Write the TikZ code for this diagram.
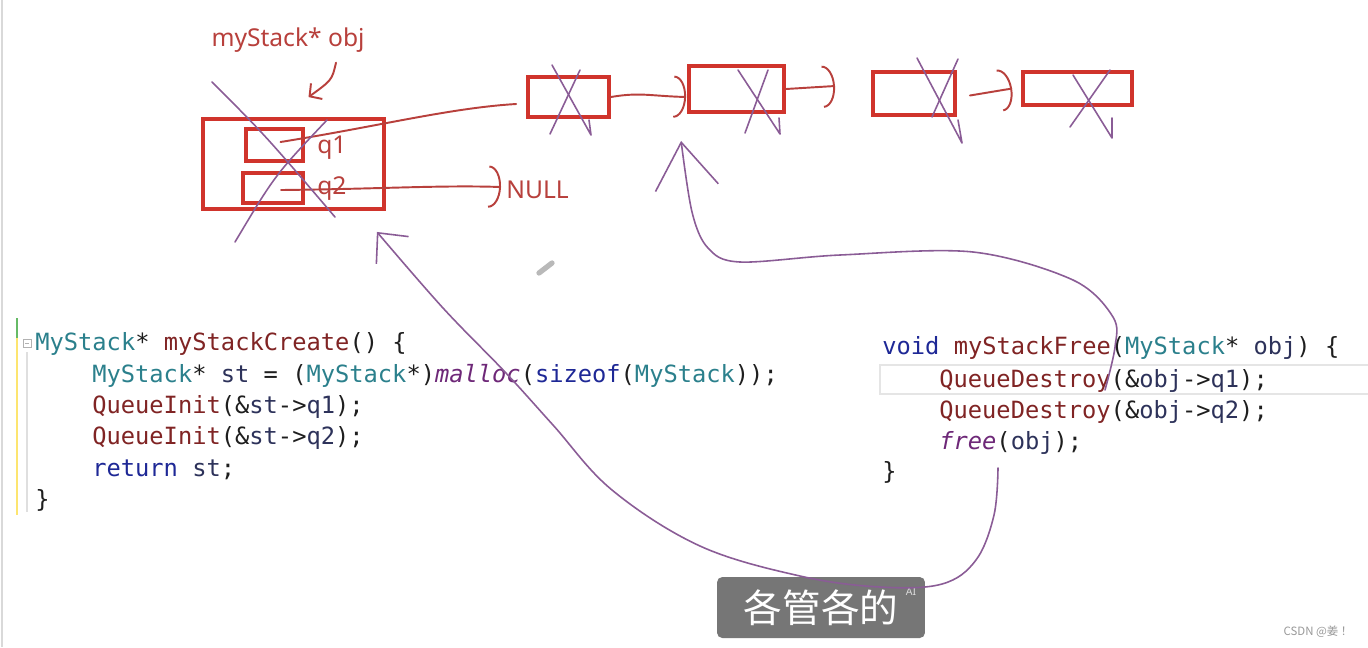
\documentclass[tikz,border=0pt]{standalone}
\usepackage{fontspec}
\setmonofont{DejaVu Sans Mono}
\newfontfamily\annfont{Noto Sans}
\newfontfamily\cjkfont{Noto Sans CJK SC}
\usetikzlibrary{arrows.meta, positioning, calc}

\definecolor{penred}{RGB}{208,52,44}
\definecolor{inkred}{RGB}{184,64,60}
\definecolor{penpurple}{RGB}{138,92,150}
\definecolor{tyteal}{RGB}{43,128,140}
\definecolor{fnred}{RGB}{128,36,36}
\definecolor{kwblue}{RGB}{30,40,150}
\definecolor{idnavy}{RGB}{45,50,90}
\definecolor{itpurple}{RGB}{110,40,120}
\definecolor{subgray}{RGB}{118,118,118}

\newcommand{\cty}[1]{\textcolor{tyteal}{#1}}
\newcommand{\cfn}[1]{\textcolor{fnred}{#1}}
\newcommand{\ckw}[1]{\textcolor{kwblue}{#1}}
\newcommand{\cid}[1]{\textcolor{idnavy}{#1}}
\newcommand{\cit}[1]{\textcolor{itpurple}{\itshape #1}}

\begin{document}
\begin{tikzpicture}[
  x=0.02cm, y=-0.02cm,
  cell/.style={draw=penred, line width=2.2pt, inner sep=0},
  ann/.style={font=\annfont\fontsize{14}{16}\selectfont, text=inkred, inner sep=0},
  redline/.style={draw=inkred, line width=1.1pt, line cap=round},
  hook/.style={-{Arc Barb[length=7pt,width=24pt]}},
  pen/.style={draw=penpurple, line width=0.9pt, line cap=round, line join=round},
  code/.style={font=\ttfamily\fontsize{13.5}{16}\selectfont, anchor=base west,
    inner sep=0, text={rgb,255:red,30;green,30;blue,30}},
]
\useasboundingbox (0,0) rectangle (1368,647);
\fill[white] (0,0) rectangle (1368,647);
\draw[gray!30, line width=0.6pt] (2,0) -- (2,647);

% memory boxes
\node[cell, minimum width=3.62cm, minimum height=1.80cm] (objbox) at (293.5,164) {};
\node[cell, minimum width=1.14cm, minimum height=0.64cm] (q1box) at (274.5,145) {};
\node[cell, minimum width=1.20cm, minimum height=0.60cm] (q2box) at (273,188) {};
\node[cell, minimum width=1.62cm, minimum height=0.80cm] (n1) at (568.5,97) {};
\node[cell, minimum width=1.90cm, minimum height=0.92cm] (n2) at (736.5,89) {};
\node[cell, minimum width=1.64cm, minimum height=0.86cm] (n3) at (914,93.5) {};
\node[cell, minimum width=2.18cm, minimum height=0.66cm] (n4) at (1077.5,88.5) {};

\node[ann] (objlbl) at (288,40) {myStack* obj};
\node[ann, anchor=west] (q1lbl) at (317,148) {q1};
\node[ann, anchor=west] (q2lbl) at (317,189) {q2};
\node[ann, anchor=west] (null) at (506,190) {NULL};
\coordinate (n2out) at (835,86);

% red pointers
\draw[redline, -{Straight Barb[length=5pt,width=11pt]}] ($(objlbl.south)+(48,10)$)
  .. controls (332,80) .. ($(objbox.north)+(15,-20)$);
\draw[redline] ($(q1box.center)+(6,-3)$) .. controls (380,126) and (450,108) .. ($(n1.west)+(-10,7)$);
\draw[redline, hook] ($(q2box.center)+(8,2)$) .. controls (380,189) and (440,185) .. ($(null.west)+(-5,-3)$);
\draw[redline, hook] (n1.east) .. controls (640,92) and (650,96) .. ($(n2.west)+(-1,8)$);
\draw[redline, hook] (n2.east) -- (n2out);
\draw[redline, hook] ($(n3.east)+(13,2)$) -- ($(n4.west)+(-9,0)$);

% crossed out
\draw[pen] (212,82) .. controls (265,135) .. (335,217);
\draw[pen] (235,242) .. controls (275,175) .. (327,120);
\draw[pen] (552,65) -- (591,135) -- (589,120);
\draw[pen] (580,70) -- (550,134);
\draw[pen] (738,70) -- (780,134) -- (779,118);
\draw[pen] (768,70) -- (745,133);
\draw[pen] (917,58) -- (962,143) -- (958,120);
\draw[pen] (958,59) -- (932,117);
\draw[pen] (1110,70) -- (1070,127);
\draw[pen] (1073,75) -- (1112,138) -- (1112,118);

% cursor
\draw[line width=3pt, gray!55, line cap=round] (539,273) -- (552,263);

% editor gutter
\draw[green!55!black!60, line width=1.2pt] (17,318) -- (17,338);
\draw[yellow!70!orange!55, line width=1.5pt] (17,338) -- (17,515);
\draw[gray!25, line width=0.6pt] (27,352) -- (27,512);
\draw[gray!60, line width=0.4pt] (23,339) rectangle (31,347);
\draw[gray!60, line width=0.4pt] (25,343) -- (29,343);
\draw[gray!20, line width=1pt] (880,365) rectangle (1380,394);

% code
\node[code] (cl1) at (35,350) {\cty{MyStack}* \cfn{myStackCreate}() \{};
\node[code] (cl2) at (92,382) {\cty{MyStack}* \cid{st} = (\cty{MyStack}*)\cit{malloc}(\ckw{sizeof}(\cty{MyStack}));};
\node[code] (cl3) at (92,413) {\cfn{QueueInit}(\&\cid{st}->\cid{q1});};
\node[code] (cl4) at (92,444) {\cfn{QueueInit}(\&\cid{st}->\cid{q2});};
\node[code] (cl5) at (92,476) {\ckw{return} \cid{st};};
\node[code] (cl6) at (35,507) {\}};

\node[code] (cr1) at (882,354) {\ckw{void} \cfn{myStackFree}(\cty{MyStack}* \cid{obj}) \{};
\node[code] (cr2) at (939,387) {\cfn{QueueDestroy}(\&\cid{obj}->\cid{q1});};
\node[code] (cr3) at (939,418) {\cfn{QueueDestroy}(\&\cid{obj}->\cid{q2});};
\node[code] (cr4) at (939,449) {\cit{free}(\cid{obj});};
\node[code] (cr5) at (882,479) {\}};

% subtitle
\node[fill=subgray, rounded corners=3pt, minimum width=4.16cm, minimum height=1.22cm,
  text=white, font=\cjkfont\fontsize{22}{24}\selectfont] (sub) at (821,607.5) {各管各的};
\node[font=\annfont\fontsize{6}{7}\selectfont, text=white!75!gray, inner sep=0] (ai) at (911,592) {AI};

% purple strokes
\coordinate (freeTail) at (998,468);
\coordinate (objTip) at ($(objbox.south east)+(-9,21)$);
\coordinate (destroyTail) at (1105,390);
\coordinate (n2Tip) at ($(n2.south west)+(-6,27)$);
\draw[pen, -{Straight Barb[length=13pt,width=24pt]}] plot[smooth, tension=0.6] coordinates {
  (freeTail) (994,515) (976,560) (942,584) (880,587) (800,576) (700,546) (612,490)
  (553,425) (505,372) (443,308) (objTip)};
\draw[pen, -{Straight Barb[length=26pt,width=36pt]}] plot[smooth, tension=0.55] coordinates {
  (destroyTail) (1115,347) (1113,317) (1073,280) (973,252) (840,255) (740,262)
  (708,248) (692,212) (n2Tip)};

\node[font=\cjkfont\fontsize{6.5}{8}\selectfont, text=gray!80] (mark) at (1318,632) {CSDN @姜 ！};
\end{tikzpicture}
\end{document}
